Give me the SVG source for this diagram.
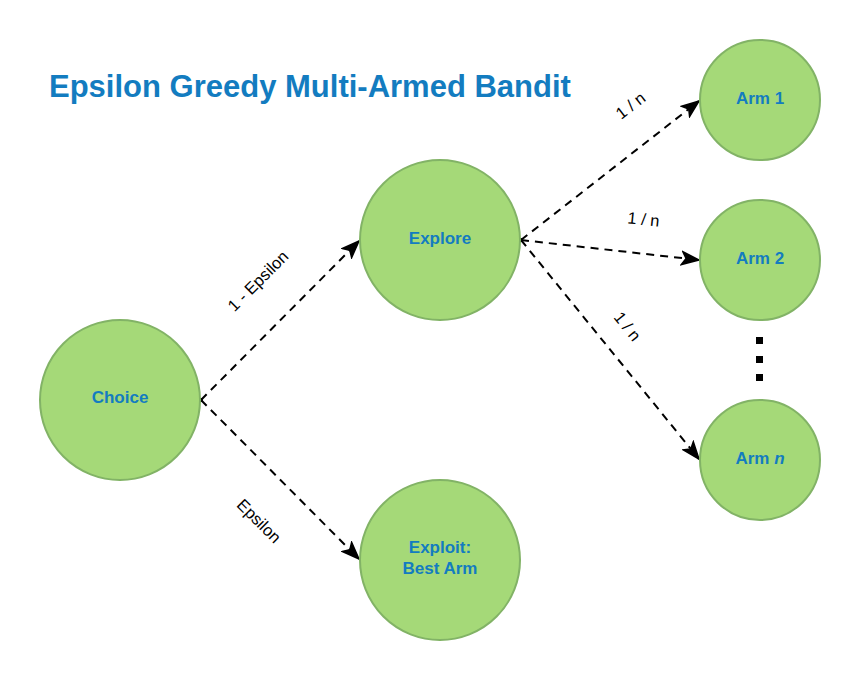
<svg xmlns="http://www.w3.org/2000/svg" width="860" height="680" viewBox="0 0 860 680">
<style>
.node{fill:#a5d978;stroke:#82b366;stroke-width:2}
.nt{font-family:"Liberation Sans",Arial,sans-serif;font-weight:bold;font-size:17px;fill:#137cc0;text-anchor:middle}
.edge{fill:none;stroke:#000;stroke-width:2;stroke-dasharray:8 6}
.el{font-family:"Liberation Sans",Arial,sans-serif;font-size:16.5px;fill:#000;text-anchor:middle}
</style>
<defs>
<marker id="arr" markerWidth="20" markerHeight="16" viewBox="0 0 20 16" refX="18" refY="8" orient="auto" markerUnits="userSpaceOnUse">
<path d="M1,1.5 L18,8 L1,14.5 L5,8 Z" fill="#000" stroke="#000" stroke-width="1.5" stroke-linejoin="miter"/>
</marker>
</defs>
<rect width="860" height="680" fill="#fff"/>
<text x="49" y="97" font-family="Liberation Sans,Arial,sans-serif" font-weight="bold" font-size="31" fill="#137cc0">Epsilon Greedy Multi-Armed Bandit</text>
<g id="connectors">
<path class="edge" d="M201,400 L359,241" marker-end="url(#arr)"/>
<path class="edge" d="M201,400 L359,559" marker-end="url(#arr)"/>
<path class="edge" d="M521,240 L699,101" marker-end="url(#arr)"/>
<path class="edge" d="M521,240 L699,260" marker-end="url(#arr)"/>
<path class="edge" d="M521,240 L699,459" marker-end="url(#arr)"/>
<circle cx="201" cy="400" r="2" fill="#000"/>
<circle cx="521" cy="240" r="2" fill="#000"/>
<text class="el" transform="translate(262,285) rotate(-45)">1 - Epsilon</text>
<text class="el" transform="translate(255,525) rotate(45)">Epsilon</text>
<text class="el" transform="translate(634,110) rotate(-38)">1 / n</text>
<text class="el" transform="translate(643,225) rotate(6)">1 / n</text>
<text class="el" transform="translate(623,330) rotate(51)">1 / n</text>
</g>
<g id="choice"><circle class="node" cx="120" cy="400" r="80"/><text class="nt" x="120" y="403">Choice</text></g>
<g id="explore"><circle class="node" cx="440" cy="240" r="80"/><text class="nt" x="440" y="244">Explore</text></g>
<g id="exploit"><circle class="node" cx="440" cy="560" r="80"/><text class="nt" x="440" y="553">Exploit:</text><text class="nt" x="440" y="574">Best Arm</text></g>
<g id="arm1"><circle class="node" cx="760" cy="100" r="60"/><text class="nt" x="760" y="104">Arm 1</text></g>
<g id="arm2"><circle class="node" cx="760" cy="260" r="60"/><text class="nt" x="760" y="264">Arm 2</text></g>
<g id="armn"><circle class="node" cx="760" cy="460" r="60"/><text class="nt" x="760" y="464">Arm <tspan font-style="italic">n</tspan></text></g>
<g id="dots" fill="#000">
<rect x="756" y="337" width="7" height="7"/>
<rect x="756" y="356" width="7" height="7"/>
<rect x="756" y="374" width="7" height="7"/>
</g>
</svg>
